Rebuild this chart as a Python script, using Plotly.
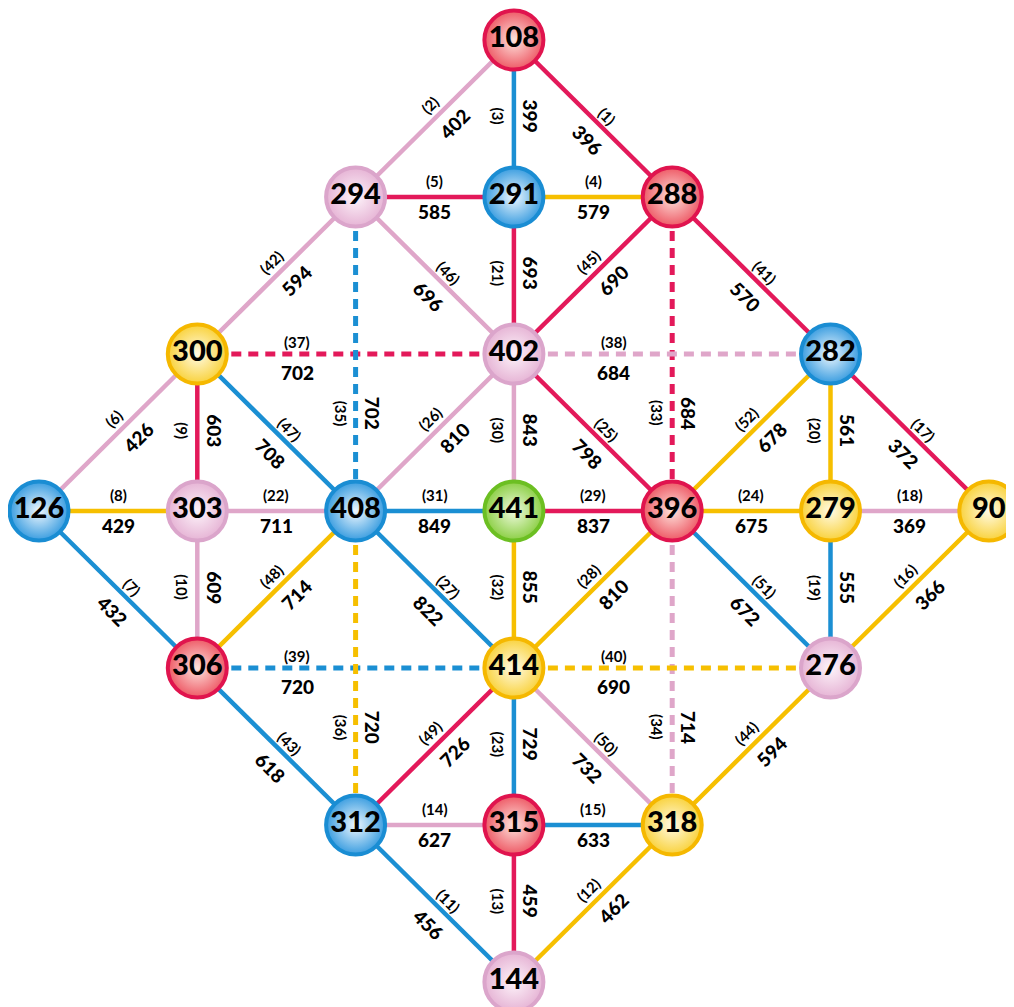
import plotly.graph_objects as go

# ---------------- data ----------------
node_labels = ["108", "294", "291", "288", "300", "402", "282", "126", "303", "408", "441",
               "396", "279", "90", "306", "414", "276", "312", "315", "318", "144"]
node_cols = [3, 2, 3, 4, 1, 3, 5, 0, 1, 2, 3, 4, 5, 6, 1, 3, 5, 2, 3, 4, 3]
node_rows = [0, 1, 1, 1, 2, 2, 2, 3, 3, 3, 3, 3, 3, 3, 4, 4, 4, 5, 5, 5, 6]
node_kinds = ["red", "pink", "blue", "red", "yellow", "pink", "blue", "blue", "pink", "blue", "green",
              "red", "yellow", "yellow", "red", "yellow", "pink", "blue", "red", "yellow", "pink"]

edge_numbers = list(range(1, 53))
edge_start = ["108", "108", "108", "291", "294", "126", "126", "126", "300", "303", "312", "144", "315",
              "312", "315", "276", "282", "279", "279", "282", "291", "303", "414", "396", "402", "408",
              "408", "414", "441", "402", "408", "441", "288", "396", "294", "408", "300", "402", "306",
              "414", "288", "294", "306", "318", "402", "294", "300", "306", "312", "414", "396", "282"]
edge_end = ["288", "294", "291", "288", "291", "300", "306", "303", "303", "306", "144", "318", "144",
            "315", "318", "90", "90", "90", "276", "279", "402", "408", "315", "279", "396", "402",
            "414", "396", "396", "441", "441", "414", "396", "318", "408", "312", "402", "282", "414",
            "276", "282", "300", "312", "276", "288", "402", "408", "408", "414", "318", "276", "396"]
edge_values = [396, 402, 399, 579, 585, 426, 432, 429, 603, 609, 456, 462, 459, 627, 633, 366, 372,
               369, 555, 561, 693, 711, 729, 675, 798, 810, 822, 810, 837, 843, 849, 855, 684, 714,
               702, 720, 702, 684, 720, 690, 570, 594, 618, 594, 690, 696, 708, 714, 726, 732, 672, 678]
edge_kinds = ["red", "pink", "blue", "yellow"] * 13
edge_dashed = [33, 34, 35, 36, 37, 38, 39, 40]

# ---------------- styles ----------------
line_colors = {"red": "#e3195a", "pink": "#dfa6c9", "blue": "#1b8fd3", "yellow": "#f6bf00"}
node_border = {"red": "#e0144e", "pink": "#dba5cb", "blue": "#1a8dd3", "yellow": "#f5b800",
               "green": "#6cbf22"}
node_fill = {"red": "#ee5a66", "pink": "#e6b4d5", "blue": "#3a9de0", "yellow": "#f9d23c",
             "green": "#8ccf45"}
node_center = {"red": "#fde3dc", "pink": "#fdf4fa", "blue": "#eef7fe", "yellow": "#fffbe6",
               "green": "#effadf"}
FONT = "Lato"

pos = {lab: (c, r) for lab, c, r in zip(node_labels, node_cols, node_rows)}

fig = go.Figure()

# edges grouped by colour and dash style
for kind in ["red", "pink", "blue", "yellow"]:
    for dashed in (False, True):
        xs, ys = [], []
        for n, a, b, k in zip(edge_numbers, edge_start, edge_end, edge_kinds):
            if k != kind or ((n in edge_dashed) != dashed):
                continue
            xs += [pos[a][0], pos[b][0], None]
            ys += [pos[a][1], pos[b][1], None]
        if not xs:
            continue
        fig.add_trace(go.Scatter(
            x=xs, y=ys, mode="lines", hoverinfo="skip", showlegend=False,
            line=dict(color=line_colors[kind], width=5 if dashed else 4.5,
                      dash="10px,7px" if dashed else "solid")))

# nodes
for kind in ["red", "pink", "blue", "yellow", "green"]:
    idx = [i for i, k in enumerate(node_kinds) if k == kind]
    fig.add_trace(go.Scatter(
        x=[node_cols[i] for i in idx], y=[node_rows[i] for i in idx],
        text=[node_labels[i] for i in idx], mode="markers+text",
        textposition="middle center", hoverinfo="skip", showlegend=False,
        textfont=dict(family=FONT, size=29, color="black", weight=900),
        marker=dict(size=59, color=node_fill[kind],
                    gradient=dict(type="radial", color=node_center[kind]),
                    line=dict(color=node_border[kind], width=4))))

# edge labels
annotations = []
for n, a, b, v in zip(edge_numbers, edge_start, edge_end, edge_values):
    (c1, r1), (c2, r2) = pos[a], pos[b]
    if (c1, r1) > (c2, r2):
        (c1, r1), (c2, r2) = (c2, r2), (c1, r1)
    dashed = n in edge_dashed
    if r1 == r2:  # horizontal
        ang = 0
        mx = c1 + 0.63 if dashed else (c1 + c2) / 2
        my = r1
        tag_shift = (0, 12 if dashed else 16)
        val_shift = (0, -18 if dashed else -14)
    elif c1 == c2:  # vertical
        ang = 90
        if r1 > r2:
            r1, r2 = r2, r1
        mx = c1
        my = r1 + 1.39 if dashed else (r1 + r2) / 2
        tag_shift = (-15, 2)
        val_shift = (17, 2)
    elif r2 > r1:  # down-right
        ang = 45
        mx, my = (c1 + c2) / 2, (r1 + r2) / 2
        tag_shift = (14, 3)
        val_shift = (-6, -21)
    else:  # up-right
        ang = -45
        mx, my = (c1 + c2) / 2, (r1 + r2) / 2
        tag_shift = (-5, 14)
        val_shift = (20, -5)
    annotations.append(dict(x=mx, y=my, xref="x", yref="y", text=f"({n})", showarrow=False,
                            textangle=ang, xshift=tag_shift[0], yshift=tag_shift[1],
                            xanchor="center", yanchor="middle",
                            font=dict(family=FONT, size=15, color="black", weight="bold")))
    annotations.append(dict(x=mx, y=my, xref="x", yref="y", text=str(v), showarrow=False,
                            textangle=ang, xshift=val_shift[0], yshift=val_shift[1],
                            xanchor="center", yanchor="middle",
                            font=dict(family=FONT, size=19, color="black", weight=900)))

W, H = 1014, 1007
x0, dx = 31, 158.3
y0, dy = 32, 157.0
fig.update_layout(
    width=W, height=H, margin=dict(l=0, r=0, t=0, b=0),
    paper_bgcolor="white", plot_bgcolor="white",
    xaxis=dict(range=[-x0 / dx, (W - x0) / dx], visible=False, fixedrange=True),
    yaxis=dict(range=[(H - y0) / dy, -y0 / dy], visible=False, fixedrange=True),
    annotations=annotations,
)
fig.write_html("out.html")
